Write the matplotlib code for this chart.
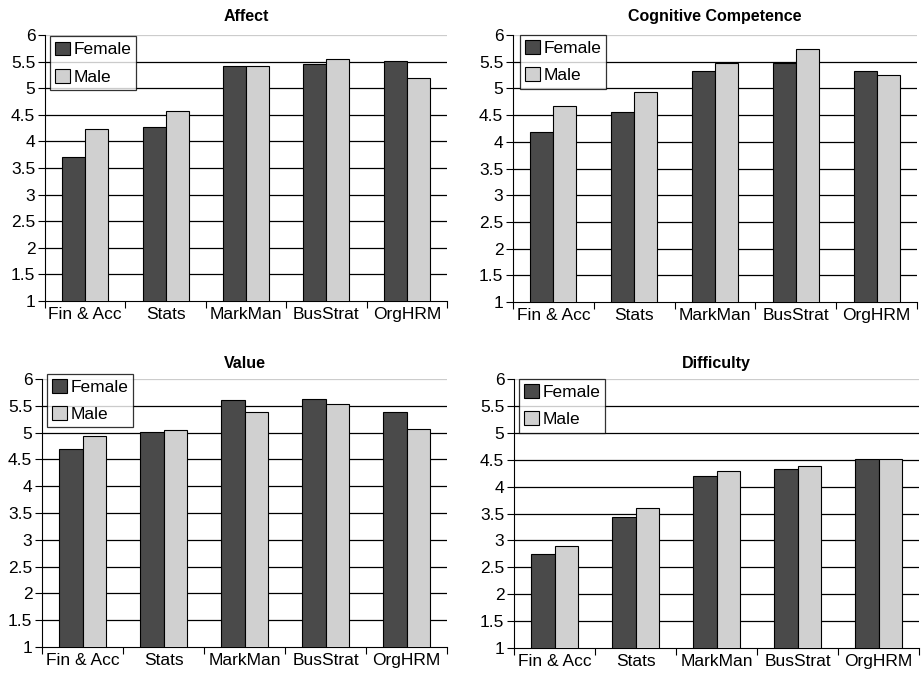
import numpy as np
from matplotlib import pyplot as plt

plt.rcParams['font.family'] = ['Liberation Sans', 'DejaVu Sans']

# 数据
categories = ['Fin & Acc', 'Stats', 'MarkMan', 'BusStrat', 'OrgHRM']
titles = ['Affect', 'Cognitive Competence', 'Value', 'Difficulty']
female = [
    [3.71, 4.27, 5.41, 5.46, 5.52],
    [4.19, 4.55, 5.32, 5.48, 5.32],
    [4.69, 5.02, 5.60, 5.63, 5.39],
    [2.75, 3.43, 4.19, 4.33, 4.52],
]
male = [
    [4.24, 4.57, 5.41, 5.55, 5.20],
    [4.67, 4.93, 5.48, 5.73, 5.26],
    [4.94, 5.05, 5.39, 5.53, 5.07],
    [2.89, 3.61, 4.29, 4.38, 4.52],
]

fig = plt.figure(figsize=(9.21, 6.75), dpi=100)
# 每个子图的位置 (left, top, width, height)，单位是像素
boxes = [(45, 35, 402, 266), (513, 35, 404, 267),
         (42, 379, 405, 268), (514, 379, 405, 269)]
title_pads = [10, 10, 8, 8]
# 图例左上角的位置（轴坐标）
legend_anchor = [(0.012, 0.995), (0.017, 1.0), (0.012, 1.02), (0.012, 1.0)]

x = np.arange(len(categories))
w = 0.285
for i, (l, t, bw, bh) in enumerate(boxes):
    ax = fig.add_axes([l / 921, 1 - (t + bh) / 675, bw / 921, bh / 675])
    ax.bar(x - w / 2, female[i], w, color='#4a4a4a',
           edgecolor='black', linewidth=0.8, label='Female', zorder=3)
    ax.bar(x + w / 2, male[i], w, color='#d0d0d0',
           edgecolor='black', linewidth=0.8, label='Male', zorder=3)
    ax.set_xlim(-0.5, 4.5)
    ax.set_ylim(1, 6)
    ax.set_yticks(np.arange(1, 6.01, 0.5))
    ax.set_yticklabels(['1', '1.5', '2', '2.5', '3', '3.5', '4', '4.5', '5', '5.5', '6'])
    for yv in np.arange(1.5, 5.51, 0.5):
        ax.axhline(yv, color='black', linewidth=0.9, zorder=1)
    ax.axhline(6, color='#cccccc', linewidth=0.9, zorder=1)
    # x轴刻度线放在类别之间
    ax.set_xticks(np.arange(-0.5, 4.51, 1))
    ax.set_xticklabels([])
    ax.set_xticks(x, minor=True)
    ax.set_xticklabels(categories, minor=True, fontsize=12.5)
    ax.tick_params(axis='x', which='minor', length=0, pad=4)
    ax.tick_params(axis='x', which='major', length=5, direction='out')
    ax.tick_params(axis='y', labelsize=12.5, length=5, pad=2)
    ax.spines['top'].set_visible(False)
    ax.spines['right'].set_visible(False)
    ax.set_title(titles[i], fontsize=11.5, fontweight='bold', pad=title_pads[i])
    leg = ax.legend(loc='upper left', bbox_to_anchor=legend_anchor[i],
                    fontsize=12.5, frameon=True, fancybox=False,
                    handlelength=0.85, handleheight=0.85, handletextpad=0.2,
                    borderpad=0.3, labelspacing=0.65, borderaxespad=0.0)
    leg.get_frame().set_edgecolor('black')
    leg.get_frame().set_linewidth(0.9)
    leg.set_zorder(5)

plt.savefig('out.png', dpi=100)
